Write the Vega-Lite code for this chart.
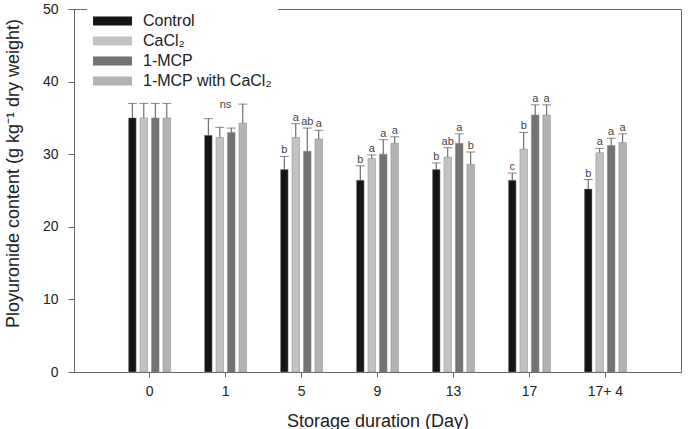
{
  "$schema": "https://vega.github.io/schema/vega-lite/v6.json",
  "width": 607,
  "height": 363,
  "autosize": "none",
  "padding": {"left": 74, "top": 9, "right": 8, "bottom": 57},
  "background": "white",
  "config": {
    "font": "Liberation Sans",
    "view": {"stroke": "#666", "strokeWidth": 1}
  },
  "data": {
    "values": [
      {"day": "0", "treatment": "Control", "mean": 35.0, "upper": 37.0, "letter": ""},
      {"day": "0", "treatment": "CaCl₂", "mean": 35.0, "upper": 37.0, "letter": ""},
      {"day": "0", "treatment": "1-MCP", "mean": 35.0, "upper": 37.0, "letter": ""},
      {"day": "0", "treatment": "1-MCP with CaCl₂", "mean": 35.0, "upper": 37.0, "letter": ""},
      {"day": "1", "treatment": "Control", "mean": 32.6, "upper": 34.9, "letter": ""},
      {"day": "1", "treatment": "CaCl₂", "mean": 32.3, "upper": 33.7, "letter": ""},
      {"day": "1", "treatment": "1-MCP", "mean": 33.0, "upper": 33.6, "letter": ""},
      {"day": "1", "treatment": "1-MCP with CaCl₂", "mean": 34.3, "upper": 36.9, "letter": ""},
      {"day": "5", "treatment": "Control", "mean": 27.9, "upper": 29.7, "letter": "b"},
      {"day": "5", "treatment": "CaCl₂", "mean": 32.3, "upper": 34.2, "letter": "a"},
      {"day": "5", "treatment": "1-MCP", "mean": 30.4, "upper": 33.6, "letter": "ab"},
      {"day": "5", "treatment": "1-MCP with CaCl₂", "mean": 32.1, "upper": 33.3, "letter": "a"},
      {"day": "9", "treatment": "Control", "mean": 26.4, "upper": 28.4, "letter": "b"},
      {"day": "9", "treatment": "CaCl₂", "mean": 29.4, "upper": 29.9, "letter": "a"},
      {"day": "9", "treatment": "1-MCP", "mean": 30.0, "upper": 32.0, "letter": "a"},
      {"day": "9", "treatment": "1-MCP with CaCl₂", "mean": 31.5, "upper": 32.4, "letter": "a"},
      {"day": "13", "treatment": "Control", "mean": 27.9, "upper": 28.8, "letter": "b"},
      {"day": "13", "treatment": "CaCl₂", "mean": 29.6, "upper": 30.9, "letter": "ab"},
      {"day": "13", "treatment": "1-MCP", "mean": 31.5, "upper": 32.8, "letter": "a"},
      {"day": "13", "treatment": "1-MCP with CaCl₂", "mean": 28.6, "upper": 30.3, "letter": "b"},
      {"day": "17", "treatment": "Control", "mean": 26.4, "upper": 27.4, "letter": "c"},
      {"day": "17", "treatment": "CaCl₂", "mean": 30.7, "upper": 33.0, "letter": "b"},
      {"day": "17", "treatment": "1-MCP", "mean": 35.4, "upper": 36.8, "letter": "a"},
      {"day": "17", "treatment": "1-MCP with CaCl₂", "mean": 35.4, "upper": 36.8, "letter": "a"},
      {"day": "17+ 4", "treatment": "Control", "mean": 25.2, "upper": 26.5, "letter": "b"},
      {"day": "17+ 4", "treatment": "CaCl₂", "mean": 30.2, "upper": 30.8, "letter": "a"},
      {"day": "17+ 4", "treatment": "1-MCP", "mean": 31.2, "upper": 32.2, "letter": "a"},
      {"day": "17+ 4", "treatment": "1-MCP with CaCl₂", "mean": 31.6, "upper": 32.8, "letter": "a"}
    ]
  },
  "encoding": {
    "x": {
      "field": "day",
      "type": "nominal",
      "scale": {
        "domain": ["0", "1", "5", "9", "13", "17", "17+ 4"],
        "paddingInner": 0.447,
        "paddingOuter": 0.718
      },
      "axis": {
        "title": "Storage duration (Day)",
        "titleFontSize": 18,
        "titleFontWeight": "normal",
        "titleColor": "#222",
        "titleBaseline": "alphabetic",
        "titleY": 54,
        "labelAngle": 0,
        "labelFontSize": 14,
        "labelColor": "#222",
        "labelPadding": 7,
        "tickSize": 5,
        "tickColor": "#666",
        "domainColor": "#666"
      }
    },
    "xOffset": {
      "field": "treatment",
      "type": "nominal",
      "scale": {
        "domain": ["Control", "CaCl₂", "1-MCP", "1-MCP with CaCl₂"],
        "paddingInner": 0.34,
        "paddingOuter": 0
      }
    }
  },
  "layer": [
    {
      "mark": {"type": "bar", "stroke": "#888", "strokeWidth": 0.5},
      "encoding": {
        "y": {
          "field": "mean",
          "type": "quantitative",
          "scale": {"domain": [0, 50], "nice": false},
          "axis": {
            "values": [0, 10, 20, 30, 40, 50],
            "grid": false,
            "tickSize": 6,
            "tickColor": "#666",
            "domainColor": "#666",
            "labelFontSize": 14,
            "labelColor": "#222",
            "labelPadding": 10,
            "title": "Ployuronide content (g kg⁻¹ dry weight)",
            "titleFontSize": 18,
            "titleFontWeight": "normal",
            "titleColor": "#222",
            "titleX": -52,
            "titleY": 164
          }
        },
        "color": {
          "field": "treatment",
          "type": "nominal",
          "scale": {
            "domain": ["Control", "CaCl₂", "1-MCP", "1-MCP with CaCl₂"],
            "range": ["#151515", "#c2c2c2", "#737373", "#b3b3b3"]
          },
          "legend": {
            "title": null,
            "orient": "none",
            "legendX": 13,
            "legendY": -4,
            "padding": 6,
            "fillColor": "white",
            "labelFontSize": 16,
            "labelColor": "#222",
            "symbolType": "M-1,-0.23H1V0.23H-1Z",
            "symbolSize": 1521,
            "symbolStrokeWidth": 0,
            "clipHeight": 20,
            "rowPadding": 0,
            "labelOffset": 11
          }
        }
      }
    },
    {
      "mark": {"type": "rule", "color": "#555", "strokeWidth": 1},
      "encoding": {
        "y": {"field": "mean", "type": "quantitative"},
        "y2": {"field": "upper"}
      }
    },
    {
      "mark": {"type": "tick", "color": "#555", "size": 9, "thickness": 1},
      "encoding": {
        "y": {"field": "upper", "type": "quantitative"}
      }
    },
    {
      "transform": [{"filter": "datum.letter != ''"}],
      "mark": {"type": "text", "fontSize": 11, "color": "#444", "baseline": "bottom", "dy": -1},
      "encoding": {
        "y": {"field": "upper", "type": "quantitative"},
        "text": {"field": "letter"}
      }
    },
    {
      "data": {"values": [{"day": "1", "label": "ns", "upper": 36.8}]},
      "mark": {"type": "text", "fontSize": 11, "color": "#444", "baseline": "middle"},
      "encoding": {
        "x": {"field": "day", "type": "nominal"},
        "xOffset": null,
        "y": {"field": "upper", "type": "quantitative"},
        "text": {"field": "label"}
      }
    }
  ]
}
